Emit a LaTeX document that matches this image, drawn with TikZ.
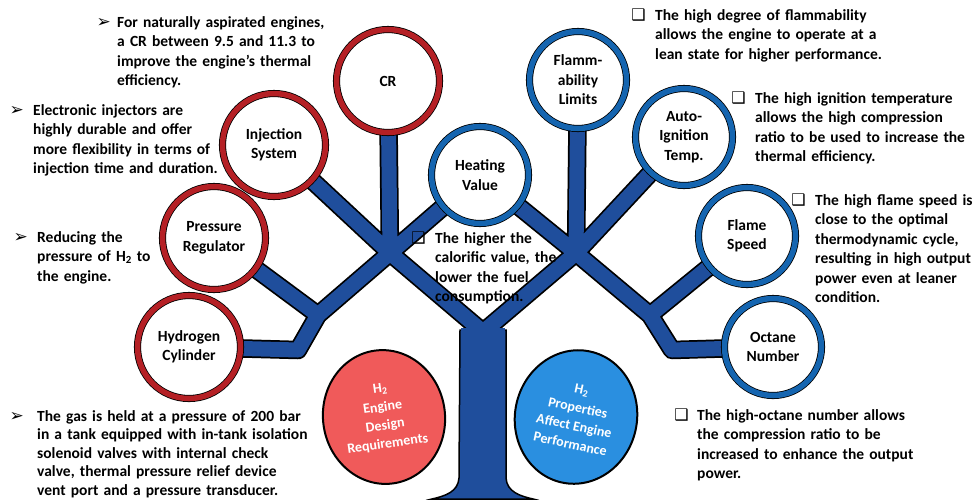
\documentclass[tikz,border=0pt]{standalone}
\usepackage{fontspec}
\setmainfont{Carlito}
\newfontfamily\symfont{DejaVu Sans}
\usepackage{xcolor}
\usepackage{tikz}
\usetikzlibrary{shapes.geometric,backgrounds}
\definecolor{navy}{HTML}{1F4E9C}
\definecolor{cRed}{HTML}{B52025}
\definecolor{cBlue}{HTML}{1565B0}
\definecolor{cSalmon}{HTML}{F05A5A}
\definecolor{cSky}{HTML}{2A8FE0}

\begin{document}
\begin{tikzpicture}[
  x=1pt, y=-1pt,
  every node/.style={font=\bfseries\fontsize{15.5}{19.5}\selectfont, inner sep=0pt},
  ringRed/.style={circle, minimum size=103pt, fill=white, draw=black,
    double=cRed, double distance=5.5pt, line width=0.8pt, align=center},
  ringBlue/.style={ringRed, minimum size=97pt, double=cBlue},
  big/.style={ellipse, minimum width=122pt, minimum height=134pt,
    draw=black, line width=2pt, text=white, align=center,
    font=\bfseries\fontsize{14}{18.5}\selectfont},
  note/.style={anchor=base west, text width=320pt, align=left},
  arrb/.style={anchor=base east, font=\symfont\fontsize{17}{19}\selectfont},
  boxb/.style={anchor=base east, font=\symfont\fontsize{16}{19}\selectfont},
  limb/.style={draw=navy, line width=15pt, line join=round,
    preaction={draw=black, line width=18.5pt, line join=round}},
]
\useasboundingbox (0,0) rectangle (974,499);

% ─── DESIGN REQUIREMENTS ───
\node[ringRed] (cr) at (388,81) {CR};
\node[ringRed] (inj) at (274,145) {Injection\\System};
\node[ringRed] (pres) at (214,238) {Pressure\\Regulator};
\node[ringRed] (hyd) at (189,347) {Hydrogen\\Cylinder};
%
% ─── PROPERTIES ───
\node[ringBlue] (heat) at (480,175) {Heating\\Value};
\node[ringBlue] (flam) at (578,80) {Flamm-\\ability\\Limits};
\node[ringBlue] (auto) at (684,137) {Auto-\\Ignition\\Temp.};
\node[ringBlue] (flsp) at (747,236) {Flame\\Speed};
\node[ringBlue] (oct) at (773,347) {Octane\\Number};
%
% ─── ROOTS ───
\node[big, fill=cSalmon, rotate=8] (req) at (384,417)
  {H\textsubscript{2}\\Engine\\Design\\Requirements};
\node[big, fill=cSky, rotate=-12] (prop) at (576,417)
  {H\textsubscript{2}\\Properties\\Affect Engine\\Performance};
%
% ─── NOTES ───
\node[note] (nCR) at (117,27) {For naturally aspirated engines,\\a CR between 9.5 and 11.3 to\\improve the engine's thermal\\efficiency.};
\node[arrb] (bCR) at ([xshift=-6pt]nCR.base west) {➢};
\node[note] (nInj) at (33,115) {Electronic injectors are\\highly durable and offer\\more flexibility in terms of\\injection time and duration.};
\node[arrb] (bInj) at ([xshift=-9pt]nInj.base west) {➢};
\node[note] (nPres) at (37,242) {Reducing the\\pressure of H\textsubscript{2} to\\the engine.};
\node[arrb] (bPres) at ([xshift=-9pt]nPres.base west) {➢};
\node[note, font=\bfseries\fontsize{15.5}{18.6}\selectfont] (nHyd) at (37,421) {The gas is held at a pressure of 200 bar\\in a tank equipped with in-tank isolation\\solenoid valves with internal check\\valve, thermal pressure relief device\\vent port and a pressure transducer.};
\node[arrb] (bHyd) at ([xshift=-13pt]nHyd.base west) {➢};
\node[note] (nHeat) at (435,243) {The higher the\\calorific value, the\\lower the fuel\\consumption.};
\node[boxb] (bHeat) at ([xshift=-9pt]nHeat.base west) {❑};
\node[note] (nFlam) at (655,20) {The high degree of flammability\\allows the engine to operate at a\\lean state for higher performance.};
\node[boxb] (bFlam) at ([xshift=-9pt]nFlam.base west) {❑};
\node[note] (nAuto) at (755,103) {The high ignition temperature\\allows the high compression\\ratio to be used to increase the\\thermal efficiency.};
\node[boxb] (bAuto) at ([xshift=-9pt]nAuto.base west) {❑};
\node[note] (nFlsp) at (815,205) {The high flame speed is\\close to the optimal\\thermodynamic cycle,\\resulting in high output\\power even at leaner\\condition.};
\node[boxb] (bFlsp) at ([xshift=-9pt]nFlsp.base west) {❑};
\node[note] (nOct) at (697,420) {The high-octane number allows\\the compression ratio to be\\increased to enhance the output\\power.};
\node[boxb] (bOct) at ([xshift=-8pt]nOct.base west) {❑};
%
% ─── TREE ───
\begin{scope}[on background layer]
  \coordinate (top) at (483,332);
  \coordinate (lf) at (390,253);
  \coordinate (rf) at (576,253);
  \coordinate (lj) at (318,315);
  \coordinate (ljb) at (298,350);
  \coordinate (rj) at (650,315);
  \coordinate (rjb) at (672,350);
  \fill[navy, draw=black, line width=1.5pt] (460,330) -- (459,478)
    .. controls (458,492) and (445,496) .. (432,499) -- (533,499)
    .. controls (520,496) and (507,492) .. (506,478) -- (506,330) -- cycle;
  \path[limb] (cr.center) -- (lf) -- (inj.center)
    (lf) -- (heat.center) -- (rf) -- (flam.center)
    (rf) -- (auto.center)
    (lf) -- (top) -- (rf)
    (lf) -- (lj) -- (pres.center)
    (lj) -- (ljb) -- (hyd.center)
    (rf) -- (rj) -- (flsp.center)
    (rj) -- (rjb) -- (oct.center);
  \fill[navy] (461,328) rectangle (505,480);
\end{scope}

\end{tikzpicture}
\end{document}
